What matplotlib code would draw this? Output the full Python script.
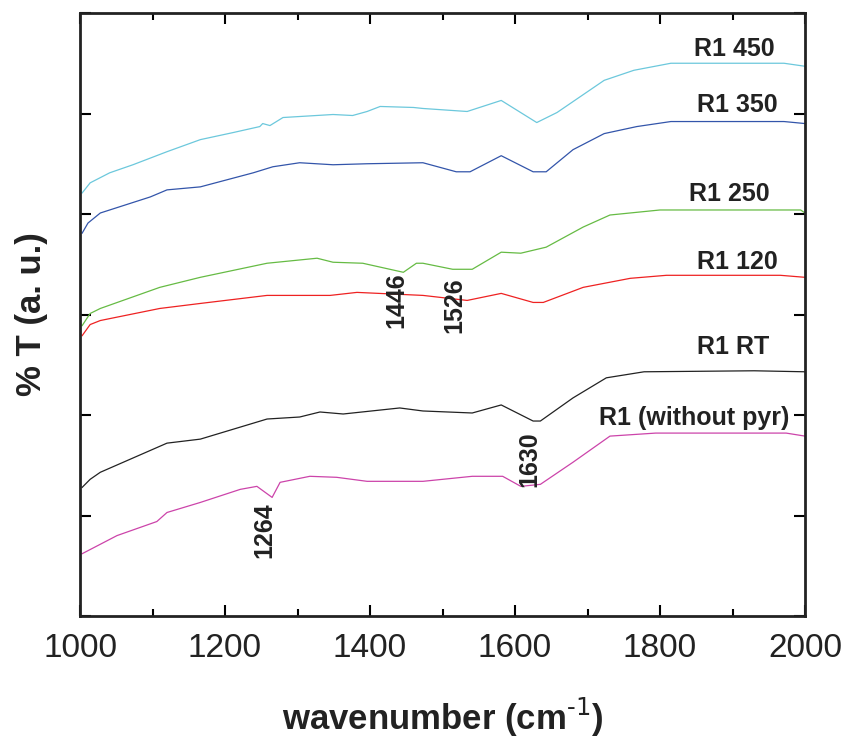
import numpy as np
import matplotlib.pyplot as plt

plt.rcParams['font.family'] = ['Liberation Sans', 'DejaVu Sans']
plt.rcParams['axes.unicode_minus'] = False

# FTIR spectra (pyridine adsorption), offset transmittance in arbitrary units
wn_450 = [1003, 1014, 1041, 1073, 1120, 1166, 1211, 1248, 1252, 1262, 1280, 1349, 1376, 1396, 1414, 1460, 1473,
          1534, 1581, 1630, 1658, 1723, 1764, 1815, 1971, 2000]
t_450 = [4.21, 4.31, 4.41, 4.49, 4.62, 4.74, 4.81, 4.87, 4.90, 4.88, 4.96, 4.99, 4.98, 5.02, 5.07, 5.06, 5.05,
         5.02, 5.13, 4.91, 5.01, 5.33, 5.43, 5.50, 5.50, 5.47]

wn_350 = [1003, 1011, 1028, 1097, 1120, 1166, 1239, 1266, 1303, 1349, 1396, 1473, 1519, 1538, 1581, 1625, 1643,
          1680, 1723, 1768, 1815, 1971, 2000]
t_350 = [3.81, 3.91, 4.01, 4.17, 4.24, 4.27, 4.41, 4.47, 4.51, 4.49, 4.50, 4.51, 4.42, 4.42, 4.58, 4.42, 4.42,
         4.64, 4.80, 4.87, 4.92, 4.92, 4.90]

wn_250 = [1003, 1014, 1028, 1110, 1166, 1258, 1327, 1349, 1390, 1446, 1464, 1473, 1514, 1541, 1581, 1608, 1643,
          1694, 1731, 1800, 1994, 2000]
t_250 = [2.89, 3.01, 3.06, 3.27, 3.37, 3.51, 3.56, 3.52, 3.51, 3.42, 3.51, 3.51, 3.45, 3.45, 3.62, 3.61, 3.67,
         3.87, 3.99, 4.04, 4.04, 4.01]

wn_120 = [1003, 1014, 1028, 1110, 1166, 1258, 1345, 1382, 1473, 1534, 1581, 1625, 1639, 1694, 1759, 1809, 1966, 2000]
t_120 = [2.79, 2.90, 2.94, 3.06, 3.11, 3.19, 3.19, 3.22, 3.19, 3.14, 3.21, 3.12, 3.12, 3.27, 3.36, 3.39, 3.39, 3.37]

wn_rt = [1003, 1014, 1028, 1120, 1166, 1258, 1303, 1331, 1363, 1441, 1473, 1541, 1581, 1625, 1635, 1680, 1726,
         1778, 1930, 2000]
t_rt = [1.28, 1.36, 1.43, 1.72, 1.76, 1.96, 1.98, 2.03, 2.01, 2.07, 2.04, 2.02, 2.10, 1.94, 1.94, 2.17, 2.37,
        2.43, 2.44, 2.43]

wn_bare = [1003, 1051, 1106, 1120, 1166, 1221, 1244, 1265, 1276, 1317, 1354, 1396, 1473, 1541, 1583, 1608, 1635,
           1680, 1731, 1794, 1974, 2000]
t_bare = [0.62, 0.80, 0.94, 1.03, 1.13, 1.26, 1.29, 1.18, 1.33, 1.39, 1.38, 1.34, 1.34, 1.39, 1.39, 1.29, 1.31,
          1.53, 1.79, 1.82, 1.82, 1.79]

series = [
    (wn_450, t_450, '#6cc8dc', 'R1 450', 694, 37),
    (wn_350, t_350, '#3355aa', 'R1 350', 697, 93),
    (wn_250, t_250, '#66bb44', 'R1 250', 689, 182),
    (wn_120, t_120, '#ee2222', 'R1 120', 697, 250),
    (wn_rt, t_rt, '#222222', 'R1 RT', 697, 335),
    (wn_bare, t_bare, '#cc44aa', 'R1 (without pyr)', 599, 406),
]

# assigned bands: wavenumber, label position in axis units
peak_wn = [1446, 1526, 1630, 1264]
peak_y = [3.14, 3.09, 1.56, 0.85]

fig = plt.figure(figsize=(8.48, 7.38), dpi=100)
ax = fig.add_axes([80 / 848, 122 / 738, 725 / 848, 603 / 738])

for wn, t, color, name, lx, ly in series:
    ax.plot(wn, t, color=color, linewidth=0.9)
    # label sits above its curve, placed in figure pixels
    fig.text(lx / 848, 1 - ly / 738, name, fontsize=18, fontweight='bold',
             color='#222222', ha='left', va='top')

for wn, y in zip(peak_wn, peak_y):
    ax.text(wn - 10, y, str(wn), rotation=90, fontsize=18, fontweight='bold',
            color='#222222', ha='center', va='center')

ax.set_xlim(1000, 2000)
ax.set_ylim(0, 6)
ax.set_xticks(np.arange(1000, 2001, 200))
ax.set_xticks(np.arange(1100, 2000, 200), minor=True)
ax.set_yticks(np.arange(0, 7, 1))
ax.set_yticklabels([])
ax.tick_params(direction='in', top=True, right=True, which='both', width=1.5)
ax.tick_params(which='major', length=8, labelsize=24, pad=12, labelcolor='#222222')
ax.tick_params(which='minor', length=5)
for side in ax.spines.values():
    side.set_linewidth(2)
    side.set_color('#222222')

ax.set_xlabel('wavenumber (cm$^{\\text{-1}}$)', fontsize=25, fontweight='bold',
              color='#222222', labelpad=23)
ax.set_ylabel('% T (a. u.)', fontsize=25, fontweight='bold', color='#222222', labelpad=11)

fig.savefig('out.png', dpi=100)
plt.close(fig)
